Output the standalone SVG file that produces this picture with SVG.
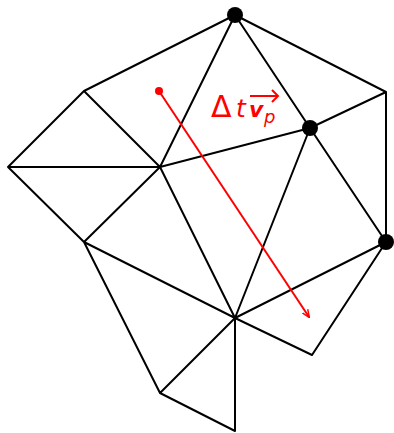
<svg xmlns="http://www.w3.org/2000/svg" width="394" height="433" viewBox="0 0 394 433">
<style>
.e{stroke:#000;stroke-width:2;fill:none;stroke-linecap:round}
.r{stroke:#f00;stroke-width:2;fill:none}
.lbl{font-family:"DejaVu Sans",sans-serif;fill:#f00}
</style>
<defs>
<marker id="ah" viewBox="0 0 10 10" refX="9" refY="5" markerWidth="8" markerHeight="8" orient="auto" markerUnits="userSpaceOnUse">
<path d="M0,1 L10,5 L0,9" fill="none" stroke="#f00" stroke-width="1.8"/>
</marker>
</defs>
<rect width="394" height="433" fill="#fff"/>
<g id="connectors">
<path class="e" d="M235,15 L84,91 M235,15 L386,92 M235,15 L160,167 M235,15 L310,128 M84,91 L160,167 M84,91 L8,167 M8,167 L160,167 M8,167 L84,242 M84,242 L160,167 M160,167 L310,128 M310,128 L386,92 M386,92 L386,242 M310,128 L386,242 M310,128 L235,318 M160,167 L235,318 M84,242 L235,318 M84,242 L160,393 M160,393 L235,318 M160,393 L235,431 M235,431 L235,318 M235,318 L312,355 M312,355 L386,242 M386,242 L235,318"/>
</g>
<g id="nodes">
<circle id="nA" cx="235" cy="15" r="8"/>
<circle id="nC" cx="310" cy="128" r="8"/>
<circle id="nD" cx="386" cy="242" r="8"/>
</g>
<g id="velocity">
<circle cx="159" cy="91" r="4" fill="#f00"/>
<line class="r" x1="159" y1="91" x2="309" y2="317" marker-end="url(#ah)"/>
<text class="lbl"><tspan x="211" y="117" font-size="30">Δ</tspan><tspan x="236" y="117" font-style="italic" font-size="25">t</tspan><tspan x="249" y="117" font-weight="bold" font-style="italic" font-size="22">v</tspan><tspan x="264" y="123" font-style="italic" font-size="18">p</tspan></text>
<line class="r" x1="250" y1="96" x2="277" y2="96" stroke-width="1.6"/>
<path class="r" d="M272,90 L278,96 L272,102" stroke-width="1.6"/>
</g>
</svg>
